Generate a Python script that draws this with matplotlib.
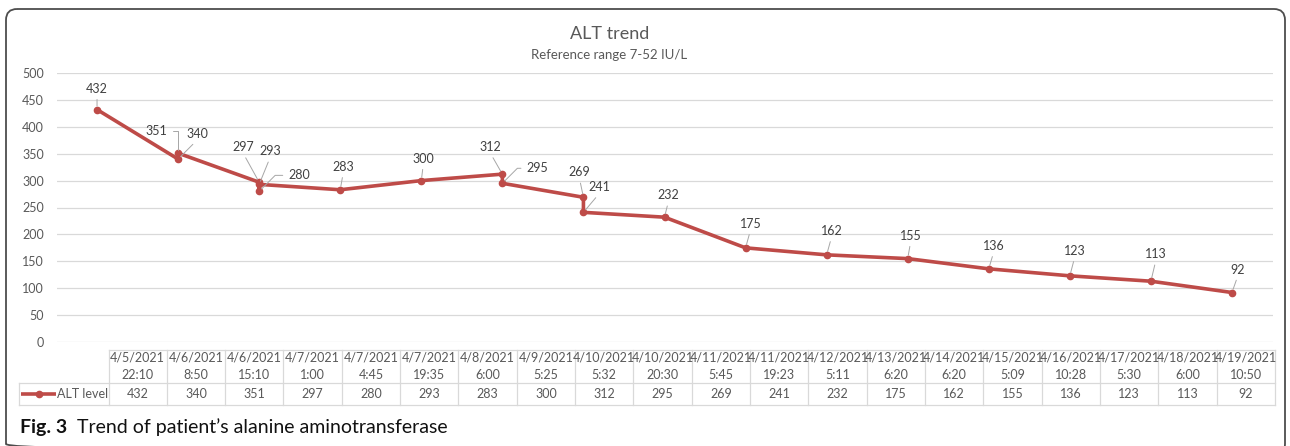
import matplotlib
matplotlib.use("Agg")
import matplotlib.pyplot as plt
import pandas as pd
from matplotlib.patches import FancyBboxPatch
from matplotlib.lines import Line2D

# ALT measurements (IU/L) with their sampling date/time
sample_dates = ["4/5/2021", "4/6/2021", "4/6/2021", "4/7/2021", "4/7/2021",
                "4/7/2021", "4/8/2021", "4/9/2021", "4/10/2021", "4/10/2021",
                "4/11/2021", "4/11/2021", "4/12/2021", "4/13/2021", "4/14/2021",
                "4/15/2021", "4/16/2021", "4/17/2021", "4/18/2021", "4/19/2021"]
sample_times = ["22:10", "8:50", "15:10", "1:00", "4:45", "19:35", "6:00",
                "5:25", "5:32", "20:30", "5:45", "19:23", "5:11", "6:20",
                "6:20", "5:09", "10:28", "5:30", "6:00", "10:50"]
alt_level = [432, 340, 351, 297, 280, 293, 283, 300, 312, 295,
             269, 241, 232, 175, 162, 155, 136, 123, 113, 92]

series_name = "ALT level"
title = "ALT trend"
subtitle = "Reference range 7-52 IU/L"
y_ticks = list(range(0, 501, 50))

# data-label placement (pixels right / up from each point) and leader style
label_offsets = [(0, 21), (19, 25), (-22, 22), (-16, 35), (40, 16), (11, 33),
                 (3, 23), (2, 22), (-12, 27), (35, 15), (-4, 25), (16, 25),
                 (4, 22), (5, 24), (5, 24), (3, 23), (5, 23), (5, 25),
                 (5, 27), (6, 23)]
leader_kind = ["up", "up", "hook", "up", "side", "up", "up", "up", "up", "side",
               "up", "up", "up", "up", "up", "up", "up", "up", "up", "up"]

RED = "#BE4B48"
GRID = "#D9D9D9"
TXT = "#595959"
FONT = "Lato"
FS = 9

W, H = 1290, 446
fig = plt.figure(figsize=(W / 100, H / 100), dpi=100)


def fx(px):
    return px / W


def fy(py):
    return 1 - py / H


# --- line chart on a day-based date axis ---
stamps = pd.to_datetime([f"{d} {t}" for d, t in zip(sample_dates, sample_times)],
                        format="%m/%d/%Y %H:%M")
days = stamps.normalize()
xday = (days - days[0]).days.to_numpy()

ax = fig.add_axes([fx(56.5), fy(342), fx(1272.5) - fx(56.5), fy(73) - fy(342)])
ax.plot(xday, alt_level, color=RED, lw=2.6, marker="o", ms=4.5,
        solid_joinstyle="round", solid_capstyle="round", zorder=3)
ax.set_xlim(-0.5, xday.max() + 0.5)
ax.set_ylim(0, 500)
ax.set_yticks(y_ticks)
ax.set_xticks([])
ax.grid(axis="y", color=GRID, lw=0.9)
ax.set_axisbelow(True)
for s in ax.spines.values():
    s.set_visible(False)
ax.tick_params(axis="y", length=0, pad=9, labelsize=FS, labelcolor=TXT)
for lab in ax.get_yticklabels():
    lab.set_fontfamily(FONT)

for xv, yv, (dx, dy), kind in zip(xday, alt_level, label_offsets, leader_kind):
    if kind == "hook":
        arrow = dict(arrowstyle="-", color="#A6A6A6", lw=0.7, relpos=(1, 0.5),
                     shrinkA=2, shrinkB=2.5,
                     connectionstyle="angle,angleA=0,angleB=90,rad=0")
    elif kind == "side":
        arrow = dict(arrowstyle="-", color="#A6A6A6", lw=0.7, relpos=(0, 0.5),
                     shrinkA=2, shrinkB=2.5,
                     connectionstyle="angle,angleA=0,angleB=45,rad=0")
    else:
        arrow = dict(arrowstyle="-", color="#A6A6A6", lw=0.7, relpos=(0.5, 0),
                     shrinkA=1.5, shrinkB=2.5)
    ax.annotate(str(yv), xy=(xv, yv), xytext=(dx * 0.72, dy * 0.72),
                textcoords="offset points", ha="center", va="center",
                fontsize=FS, color="#404040", family=FONT,
                arrowprops=arrow, zorder=4)

# --- overlay in pixel units: titles, data table, caption, frame ---
ov = fig.add_axes([0, 0, 1, 1], zorder=-1)
ov.set_xlim(0, W)
ov.set_ylim(H, 0)
ov.axis("off")

ov.text(610, 34, title, ha="center", va="center", fontsize=13,
        color=TXT, family=FONT)
ov.text(609, 55, subtitle, ha="center", va="center", fontsize=9.5,
        color=TXT, family=FONT)

n = len(alt_level)
leg_left, col_left, tab_right = 19, 108.5, 1275
col_w = (tab_right - col_left) / n
top, mid, bot = 350, 383, 404.5
line_kw = dict(color=GRID, lw=0.9)

ov.plot([col_left, tab_right], [top, top], **line_kw)
ov.plot([leg_left, tab_right], [mid, mid], **line_kw)
ov.plot([leg_left, tab_right], [bot, bot], **line_kw)
ov.plot([leg_left, leg_left], [mid, bot], **line_kw)
for i in range(n + 1):
    xb = col_left + i * col_w
    ov.plot([xb, xb], [top, bot], **line_kw)

for i in range(n):
    xc = col_left + (i + 0.5) * col_w
    ov.text(xc, 358, sample_dates[i], ha="center", va="center",
            fontsize=FS, color=TXT, family=FONT)
    ov.text(xc, 375, sample_times[i], ha="center", va="center",
            fontsize=FS, color=TXT, family=FONT)
    ov.text(xc, 394, str(alt_level[i]), ha="center", va="center",
            fontsize=FS, color=TXT, family=FONT)

ov.add_line(Line2D([21, 56], [393.5, 393.5], color=RED, lw=2.6,
                   solid_capstyle="butt"))
ov.add_line(Line2D([38.5], [393.5], color=RED, marker="o", ms=4.5))
ov.text(57, 393.5, series_name, ha="left", va="center", fontsize=FS,
        color=TXT, family=FONT)

fig_lbl = ov.text(20, 427, "Fig. 3", ha="left", va="center", fontsize=14,
                  fontweight="bold", color="#111111", family=FONT)
ov.annotate("  Trend of patient\u2019s alanine aminotransferase",
            xy=(1, 0.5), xycoords=fig_lbl, ha="left", va="center",
            fontsize=14, color="#111111", family=FONT)

frame = FancyBboxPatch((6, 9), 1279, 446,
                       boxstyle="round,pad=0,rounding_size=11",
                       fc="none", ec="#4D4D4D", lw=1.3)
ov.add_patch(frame)

fig.savefig("out.png", dpi=100, facecolor="white")
